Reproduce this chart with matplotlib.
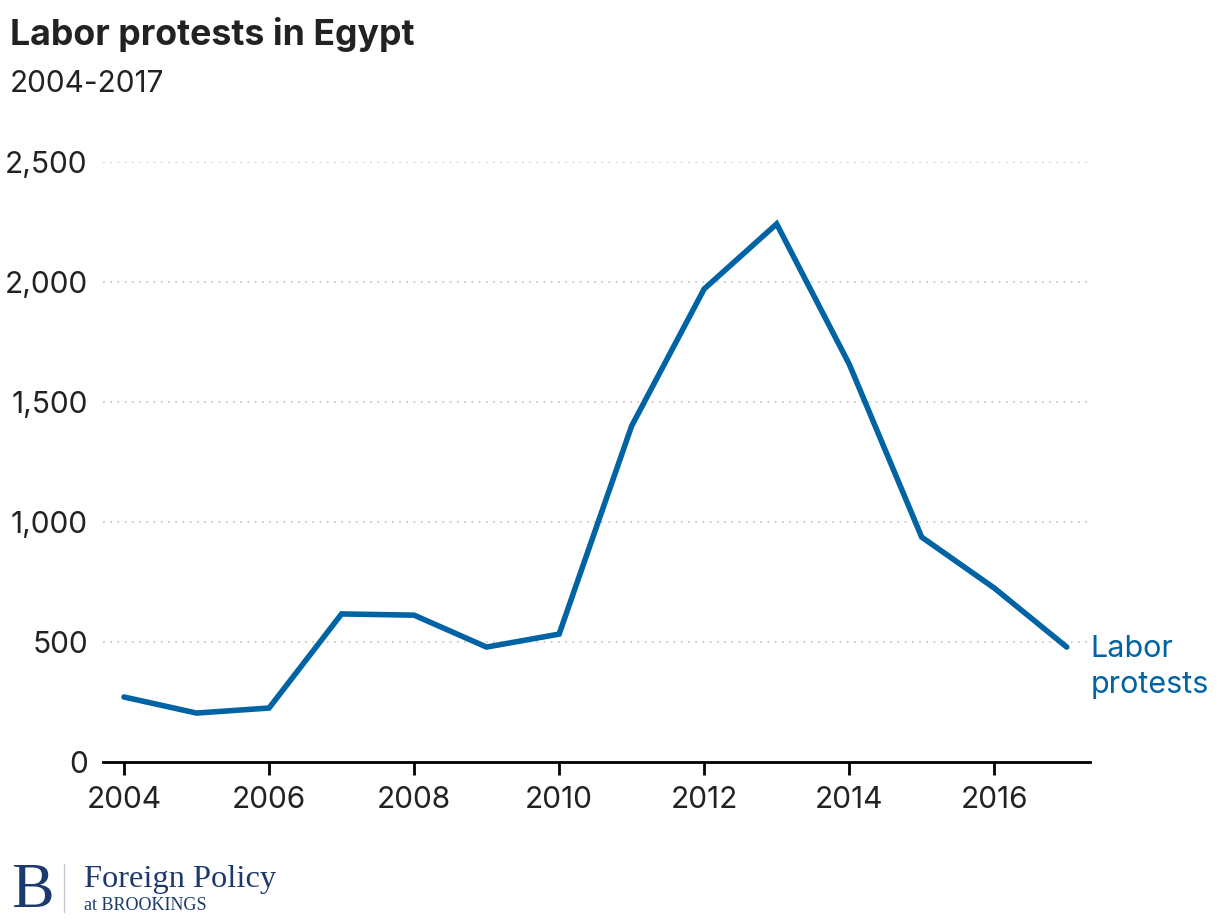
import matplotlib.pyplot as plt
from matplotlib.ticker import FuncFormatter

plt.rcParams['font.family'] = ['Inter', 'DejaVu Sans']

# Data
years = [2004, 2005, 2006, 2007, 2008, 2009, 2010, 2011, 2012, 2013, 2014, 2015, 2016, 2017]
protests = [271, 204, 225, 617, 612, 479, 533, 1400, 1971, 2242, 1658, 937, 725, 479]
y_ticks = [0, 500, 1000, 1500, 2000, 2500]
x_ticks = [2004, 2006, 2008, 2010, 2012, 2014, 2016]

blue = '#0063a3'
dark = '#222222'
navy = '#1c3a6e'

fig = plt.figure(figsize=(12.2, 9.22), dpi=100)
ax = fig.add_axes([0.0844, 0.1735, 0.8090, 0.6508])

ax.plot(years, protests, color=blue, lw=4, solid_capstyle='round', solid_joinstyle='miter')
ax.text(years[-1] + 0.33, 395, 'Labor\nprotests', color=blue, fontsize=22,
        va='center', ha='left', linespacing=1.38)

ax.set_xlim(2003.71, 2017.32)
ax.set_ylim(0, 2500)
ax.set_yticks(y_ticks)
ax.set_xticks(x_ticks)
ax.yaxis.set_major_formatter(FuncFormatter(lambda v, p: f'{int(v):,}'))

for v in y_ticks[1:]:
    ax.axhline(v, color='#c8c8c8', lw=1.3, ls=(0, (1, 3)), zorder=0)

for s in ['top', 'right', 'left']:
    ax.spines[s].set_visible(False)
ax.spines['bottom'].set_linewidth(2)
ax.spines['bottom'].set_color('black')
ax.tick_params(axis='y', length=0, pad=11, labelsize=21.5, labelcolor=dark)
ax.tick_params(axis='x', length=9, width=2, pad=8, labelsize=21.5, labelcolor=dark, direction='out')

fig.text(10 / 1220, 1 - 45 / 922, 'Labor protests in Egypt', fontsize=25.7, fontweight='bold',
         color=dark, va='baseline')
fig.text(10 / 1220, 1 - 92 / 922, '2004-2017', fontsize=21.4, color=dark, va='baseline')

# Brookings logo
fig.text(11 / 1220, 1 - 907 / 922, 'B', family='Liberation Serif', fontsize=46, color=navy,
         va='baseline')
fig.add_artist(plt.Line2D([64 / 1220, 64 / 1220], [1 - 912 / 922, 1 - 864 / 922],
                          color='#c5cad6', lw=1))
fig.text(84 / 1220, 1 - 887 / 922, 'Foreign Policy', family='Liberation Serif', fontsize=23.4,
         color=navy, va='baseline')
fig.text(84 / 1220, 1 - 910 / 922, 'at BROOKINGS', family='Liberation Serif', fontsize=13,
         color=navy, va='baseline')

fig.savefig('out.png', dpi=100)
